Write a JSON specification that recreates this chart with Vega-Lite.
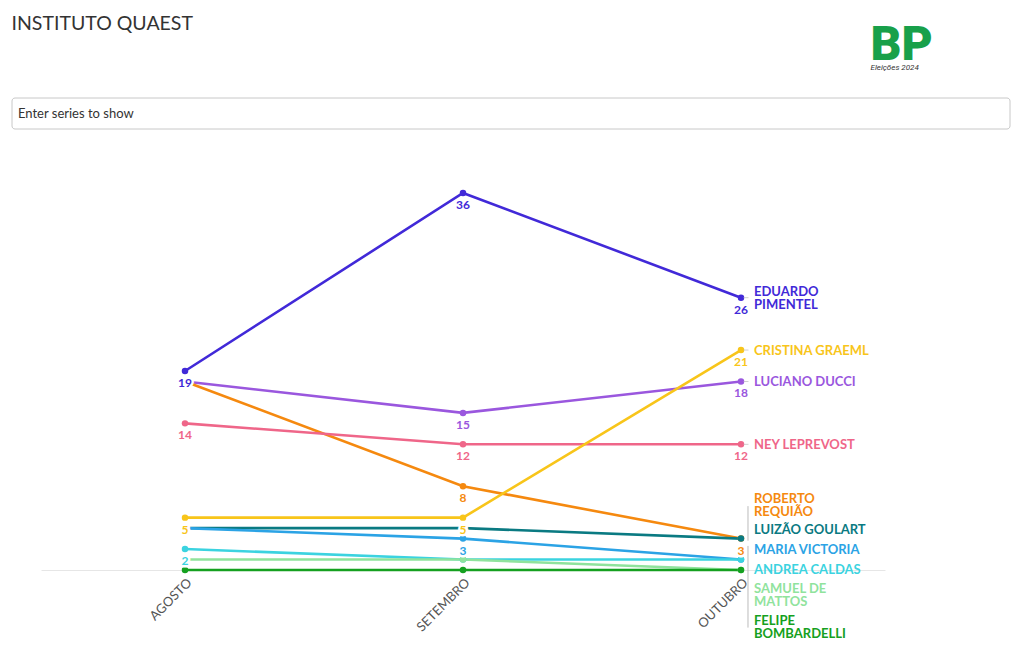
{
  "$schema": "https://vega.github.io/schema/vega-lite/v6.json",
  "background": "white",
  "padding": {"left": 11, "top": 14, "right": 0, "bottom": 0},
  "title": {"text": "INSTITUTO QUAEST", "anchor": "start", "font": "Lato", "fontSize": 19.5, "fontWeight": "normal", "color": "#333333", "offset": -13},
  "spacing": 42,
  "vconcat": [
    {
      "width": 969,
      "height": 31,
      "title": {"text": "BP", "subtitle": "Eleições 2024", "anchor": "start", "dx": 859, "font": "Roboto", "fontSize": 48, "fontWeight": 900, "color": "#18a04a", "subtitleFont": "Roboto", "subtitleFontSize": 8, "subtitleFontStyle": "italic", "subtitleColor": "#333333", "subtitlePadding": -6, "offset": 26},
      "data": {"values": [{"t": "Enter series to show", "ini": -29, "fim": 969}]},
      "encoding": {
        "x": {"field": "ini", "type": "quantitative", "scale": {"domain": [0, 969]}, "axis": null}
      },
      "layer": [
        {"mark": {"type": "rect", "fill": "white", "fillOpacity": 0, "stroke": "#c8c8c8", "strokeWidth": 1, "cornerRadius": 3, "clip": false},
         "encoding": {"x2": {"field": "fim"}}},
        {"mark": {"type": "text", "align": "left", "baseline": "middle", "dx": 6, "font": "Lato", "fontSize": 13, "color": "#333333"},
         "encoding": {"text": {"field": "t"}}}
      ]
    },
    {
      "width": 844,
      "height": 398,
      "data": {"values": [
        {"mes": "AGOSTO", "nome": "EDUARDO PIMENTEL", "rotulo": "EDUARDO\nPIMENTEL", "valor": 19},
        {"mes": "SETEMBRO", "nome": "EDUARDO PIMENTEL", "rotulo": "EDUARDO\nPIMENTEL", "valor": 36},
        {"mes": "OUTUBRO", "nome": "EDUARDO PIMENTEL", "rotulo": "EDUARDO\nPIMENTEL", "valor": 26},
        {"mes": "AGOSTO", "nome": "LUCIANO DUCCI", "rotulo": "LUCIANO DUCCI", "valor": 18},
        {"mes": "SETEMBRO", "nome": "LUCIANO DUCCI", "rotulo": "LUCIANO DUCCI", "valor": 15},
        {"mes": "OUTUBRO", "nome": "LUCIANO DUCCI", "rotulo": "LUCIANO DUCCI", "valor": 18},
        {"mes": "AGOSTO", "nome": "ROBERTO REQUIÃO", "rotulo": "ROBERTO\nREQUIÃO", "valor": 18},
        {"mes": "SETEMBRO", "nome": "ROBERTO REQUIÃO", "rotulo": "ROBERTO\nREQUIÃO", "valor": 8},
        {"mes": "OUTUBRO", "nome": "ROBERTO REQUIÃO", "rotulo": "ROBERTO\nREQUIÃO", "valor": 3},
        {"mes": "AGOSTO", "nome": "NEY LEPREVOST", "rotulo": "NEY LEPREVOST", "valor": 14},
        {"mes": "SETEMBRO", "nome": "NEY LEPREVOST", "rotulo": "NEY LEPREVOST", "valor": 12},
        {"mes": "OUTUBRO", "nome": "NEY LEPREVOST", "rotulo": "NEY LEPREVOST", "valor": 12},
        {"mes": "AGOSTO", "nome": "CRISTINA GRAEML", "rotulo": "CRISTINA GRAEML", "valor": 5},
        {"mes": "SETEMBRO", "nome": "CRISTINA GRAEML", "rotulo": "CRISTINA GRAEML", "valor": 5},
        {"mes": "OUTUBRO", "nome": "CRISTINA GRAEML", "rotulo": "CRISTINA GRAEML", "valor": 21},
        {"mes": "AGOSTO", "nome": "LUIZÃO GOULART", "rotulo": "LUIZÃO GOULART", "valor": 4},
        {"mes": "SETEMBRO", "nome": "LUIZÃO GOULART", "rotulo": "LUIZÃO GOULART", "valor": 4},
        {"mes": "OUTUBRO", "nome": "LUIZÃO GOULART", "rotulo": "LUIZÃO GOULART", "valor": 3},
        {"mes": "AGOSTO", "nome": "MARIA VICTORIA", "rotulo": "MARIA VICTORIA", "valor": 4},
        {"mes": "SETEMBRO", "nome": "MARIA VICTORIA", "rotulo": "MARIA VICTORIA", "valor": 3},
        {"mes": "OUTUBRO", "nome": "MARIA VICTORIA", "rotulo": "MARIA VICTORIA", "valor": 1},
        {"mes": "AGOSTO", "nome": "ANDREA CALDAS", "rotulo": "ANDREA CALDAS", "valor": 2},
        {"mes": "SETEMBRO", "nome": "ANDREA CALDAS", "rotulo": "ANDREA CALDAS", "valor": 1},
        {"mes": "OUTUBRO", "nome": "ANDREA CALDAS", "rotulo": "ANDREA CALDAS", "valor": 1},
        {"mes": "AGOSTO", "nome": "SAMUEL DE MATTOS", "rotulo": "SAMUEL DE\nMATTOS", "valor": 1},
        {"mes": "SETEMBRO", "nome": "SAMUEL DE MATTOS", "rotulo": "SAMUEL DE\nMATTOS", "valor": 1},
        {"mes": "OUTUBRO", "nome": "SAMUEL DE MATTOS", "rotulo": "SAMUEL DE\nMATTOS", "valor": 0},
        {"mes": "AGOSTO", "nome": "FELIPE BOMBARDELLI", "rotulo": "FELIPE\nBOMBARDELLI", "valor": 0},
        {"mes": "SETEMBRO", "nome": "FELIPE BOMBARDELLI", "rotulo": "FELIPE\nBOMBARDELLI", "valor": 0},
        {"mes": "OUTUBRO", "nome": "FELIPE BOMBARDELLI", "rotulo": "FELIPE\nBOMBARDELLI", "valor": 0}
      ]},
      "encoding": {
        "x": {"field": "mes", "type": "ordinal", "sort": ["AGOSTO", "SETEMBRO", "OUTUBRO"],
              "scale": {"type": "point", "padding": 0.518},
              "axis": {"title": null, "labelAngle": -45, "labelFont": "Lato", "labelFontSize": 13, "labelColor": "#555555", "domain": false, "ticks": false, "grid": false, "labelPadding": 6}},
        "y": {"field": "valor", "type": "quantitative",
              "scale": {"domain": [0, 38], "nice": false},
              "axis": {"title": null, "labels": false, "ticks": false, "domain": false, "grid": true, "values": [0], "gridColor": "#e6e6e6", "minExtent": 29, "maxExtent": 29}},
        "color": {"field": "nome", "type": "nominal", "legend": null,
                  "scale": {"domain": ["EDUARDO PIMENTEL", "LUCIANO DUCCI", "ROBERTO REQUIÃO", "NEY LEPREVOST", "CRISTINA GRAEML", "LUIZÃO GOULART", "MARIA VICTORIA", "ANDREA CALDAS", "SAMUEL DE MATTOS", "FELIPE BOMBARDELLI"],
                            "range": ["#4129d8", "#9a57de", "#f5890f", "#ef6689", "#f8c51a", "#0a7a82", "#2ba3e5", "#3bd3e0", "#90e39d", "#15a020"]}}
      },
      "layer": [
        {"mark": {"type": "line", "strokeWidth": 2.6, "clip": false}},
        {"mark": {"type": "point", "filled": true, "opacity": 1, "size": 42, "clip": false}},
        {
          "transform": [{"filter": "indexof(['EDUARDO PIMENTEL|AGOSTO','NEY LEPREVOST|AGOSTO','CRISTINA GRAEML|AGOSTO','ANDREA CALDAS|AGOSTO','EDUARDO PIMENTEL|SETEMBRO','LUCIANO DUCCI|SETEMBRO','NEY LEPREVOST|SETEMBRO','ROBERTO REQUIÃO|SETEMBRO','CRISTINA GRAEML|SETEMBRO','MARIA VICTORIA|SETEMBRO','EDUARDO PIMENTEL|OUTUBRO','CRISTINA GRAEML|OUTUBRO','LUCIANO DUCCI|OUTUBRO','NEY LEPREVOST|OUTUBRO','ROBERTO REQUIÃO|OUTUBRO'], datum.nome + '|' + datum.mes) >= 0"}],
          "layer": [
            {"mark": {"type": "text", "dy": 12, "font": "Lato", "fontSize": 12, "fontWeight": "bold", "fill": "white", "stroke": "white", "strokeWidth": 5, "strokeJoin": "round"},
             "encoding": {"text": {"field": "valor"}, "color": {"value": "white"}}},
            {"mark": {"type": "text", "dy": 12, "font": "Lato", "fontSize": 12, "fontWeight": "bold"},
             "encoding": {"text": {"field": "valor"}}}
          ]
        },
        {
          "transform": [{"filter": "datum.mes == 'OUTUBRO' && indexof(['EDUARDO PIMENTEL','CRISTINA GRAEML','LUCIANO DUCCI','NEY LEPREVOST'], datum.nome) >= 0"}],
          "mark": {"type": "tick", "orient": "horizontal", "size": 5, "thickness": 1, "xOffset": 5, "color": "#bbbbbb"},
          "encoding": {"color": {"value": "#bbbbbb"}}
        },
        {"transform": [{"filter": "datum.mes == 'OUTUBRO' && datum.nome == 'EDUARDO PIMENTEL'"}],
         "mark": {"type": "text", "align": "left", "baseline": "middle", "dx": 13, "dy": -6, "font": "Lato", "fontSize": 13, "fontWeight": "bold", "lineBreak": "\n", "lineHeight": 13},
         "encoding": {"text": {"field": "rotulo"}}},
        {"transform": [{"filter": "datum.mes == 'OUTUBRO' && indexof(['CRISTINA GRAEML','LUCIANO DUCCI','NEY LEPREVOST'], datum.nome) >= 0"}],
         "mark": {"type": "text", "align": "left", "baseline": "middle", "dx": 13, "dy": 1, "font": "Lato", "fontSize": 13, "fontWeight": "bold", "lineBreak": "\n", "lineHeight": 13},
         "encoding": {"text": {"field": "rotulo"}}},
        {"transform": [{"filter": "datum.mes == 'OUTUBRO' && datum.nome == 'ROBERTO REQUIÃO'"}],
         "mark": {"type": "text", "align": "left", "baseline": "middle", "dx": 13, "dy": -40, "font": "Lato", "fontSize": 13, "fontWeight": "bold", "lineBreak": "\n", "lineHeight": 13},
         "encoding": {"text": {"field": "rotulo"}}},
        {"transform": [{"filter": "datum.mes == 'OUTUBRO' && datum.nome == 'LUIZÃO GOULART'"}],
         "mark": {"type": "text", "align": "left", "baseline": "middle", "dx": 13, "dy": -9, "font": "Lato", "fontSize": 13, "fontWeight": "bold", "lineBreak": "\n", "lineHeight": 13},
         "encoding": {"text": {"field": "rotulo"}}},
        {"transform": [{"filter": "datum.mes == 'OUTUBRO' && datum.nome == 'MARIA VICTORIA'"}],
         "mark": {"type": "text", "align": "left", "baseline": "middle", "dx": 13, "dy": -10, "font": "Lato", "fontSize": 13, "fontWeight": "bold", "lineBreak": "\n", "lineHeight": 13},
         "encoding": {"text": {"field": "rotulo"}}},
        {"transform": [{"filter": "datum.mes == 'OUTUBRO' && datum.nome == 'ANDREA CALDAS'"}],
         "mark": {"type": "text", "align": "left", "baseline": "middle", "dx": 13, "dy": 10, "font": "Lato", "fontSize": 13, "fontWeight": "bold", "lineBreak": "\n", "lineHeight": 13},
         "encoding": {"text": {"field": "rotulo"}}},
        {"transform": [{"filter": "datum.mes == 'OUTUBRO' && datum.nome == 'SAMUEL DE MATTOS'"}],
         "mark": {"type": "text", "align": "left", "baseline": "middle", "dx": 13, "dy": 19, "font": "Lato", "fontSize": 13, "fontWeight": "bold", "lineBreak": "\n", "lineHeight": 13},
         "encoding": {"text": {"field": "rotulo"}}},
        {"transform": [{"filter": "datum.mes == 'OUTUBRO' && datum.nome == 'FELIPE BOMBARDELLI'"}],
         "mark": {"type": "text", "align": "left", "baseline": "middle", "dx": 13, "dy": 51, "font": "Lato", "fontSize": 13, "fontWeight": "bold", "lineBreak": "\n", "lineHeight": 13},
         "encoding": {"text": {"field": "rotulo"}}},
        {"transform": [{"filter": "datum.mes == 'OUTUBRO' && datum.nome == 'ROBERTO REQUIÃO'"}],
         "mark": {"type": "rule", "xOffset": 7, "strokeWidth": 1, "color": "#bbbbbb", "clip": false},
         "encoding": {"y": {"datum": 6.1}, "y2": {"datum": 2.8}, "color": {"value": "#bbbbbb"}}},
        {"transform": [{"filter": "datum.mes == 'OUTUBRO' && datum.nome == 'ANDREA CALDAS'"}],
         "mark": {"type": "rule", "xOffset": 7, "strokeWidth": 1, "color": "#bbbbbb", "clip": false},
         "encoding": {"y": {"datum": 2.3}, "y2": {"datum": -5.5}, "color": {"value": "#bbbbbb"}}}
      ]
    }
  ],
  "config": {
    "view": {"stroke": null},
    "font": "Lato"
  }
}
